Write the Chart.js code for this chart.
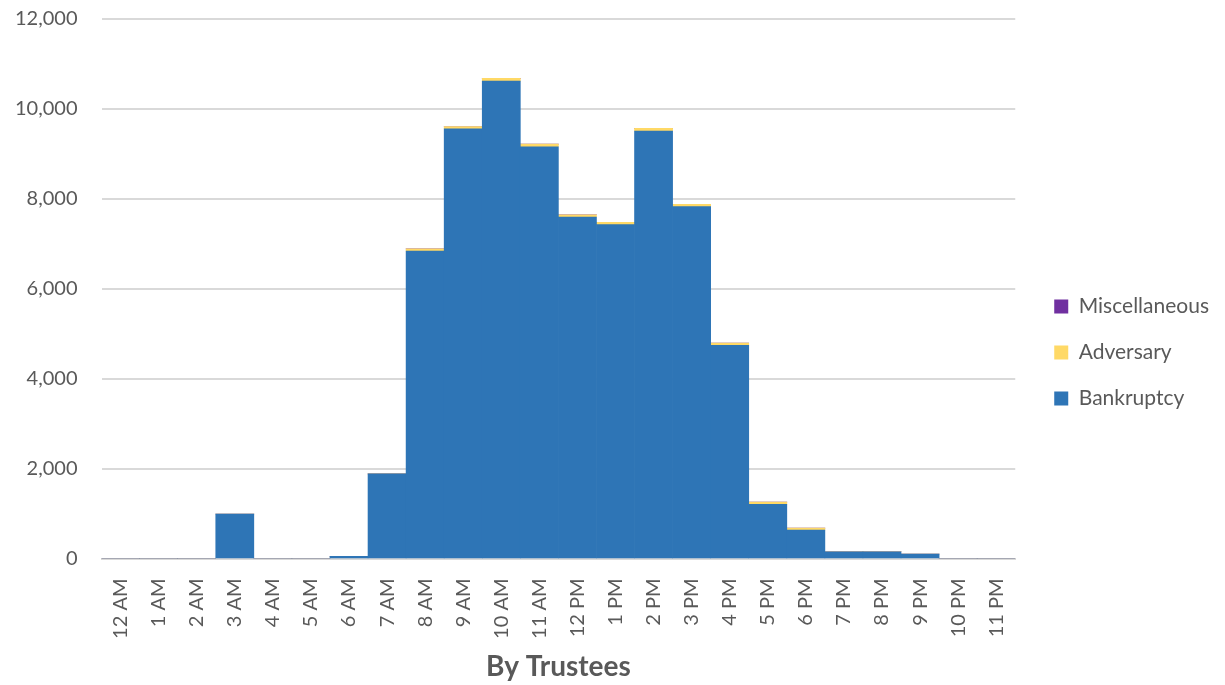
<!DOCTYPE html>
<html>
<head>
<meta charset="utf-8">
<script src="https://cdn.jsdelivr.net/npm/chart.js@4/dist/chart.umd.min.js"></script>
<style>
  html, body { margin: 0; padding: 0; background: #fff; overflow: hidden; }
  #wrap { width: 1225px; height: 685px; overflow: hidden; }
  /* canvas pushed up/left a bit so the plot area lines up with the original */
  #chart { display: block; margin-left: -17px; margin-top: -17px; }
</style>
</head>
<body>
<div id="wrap"><canvas id="chart" width="1242" height="702"></canvas></div>
<script>
// ===== DATA =====
const hours = ["12 AM", "1 AM", "2 AM", "3 AM", "4 AM", "5 AM", "6 AM", "7 AM", "8 AM", "9 AM", "10 AM", "11 AM",
               "12 PM", "1 PM", "2 PM", "3 PM", "4 PM", "5 PM", "6 PM", "7 PM", "8 PM", "9 PM", "10 PM", "11 PM"];

const bankruptcy    = [0, 0, 0, 1000, 0, 0, 60, 1890, 6840, 9560, 10620, 9160,
                       7600, 7430, 9510, 7830, 4750, 1215, 640, 160, 160, 110, 0, 0];
const adversary     = [0, 0, 0, 0, 0, 0, 0, 0, 50, 50, 60, 60,
                       50, 50, 60, 50, 50, 50, 45, 0, 0, 0, 0, 0];
const miscellaneous = [0, 0, 0, 0, 0, 0, 0, 0, 0, 0, 0, 0,
                       0, 0, 0, 0, 0, 0, 0, 0, 0, 0, 0, 0];

const yTicks = [0, 2000, 4000, 6000, 8000, 10000, 12000];

const FONT = "Lato, 'Open Sans', sans-serif";
const GREY = "#595959";

// ===== HELPERS =====
function makeDataset(label, data, color) {
  return {
    label,
    data,
    backgroundColor: color,
    borderWidth: 0,
    categoryPercentage: 1.0,
    barPercentage: 1.0
  };
}

// legend sits a bit further from the plot and lower than chart.js puts it
const legendShift = {
  id: "legendShift",
  afterInit(chart) {
    const lg = chart.legend;
    const fit = lg.fit;
    lg.fit = function () { fit.call(this); this.width += 14; };
    const draw = lg.draw;
    lg.draw = function () {
      this.ctx.save();
      this.ctx.translate(14, 22);
      draw.call(this);
      this.ctx.restore();
    };
  }
};

// ===== CHART =====
window.addEventListener("load", () => {
  new Chart(document.getElementById("chart"), {
    type: "bar",
    data: {
      labels: hours,
      datasets: [
        makeDataset("Bankruptcy", bankruptcy, "#2E75B6"),
        makeDataset("Adversary", adversary, "#FFD966"),
        makeDataset("Miscellaneous", miscellaneous, "#7030A0")
      ]
    },
    plugins: [legendShift],
    options: {
      responsive: false,
      animation: false,
      layout: { padding: { left: 8, right: 6, top: -6, bottom: 1 } },
      plugins: {
        tooltip: { enabled: false },
        legend: {
          position: "right",
          reverse: true,
          labels: {
            color: GREY,
            font: { family: FONT, size: 21 },
            boxWidth: 14,
            boxHeight: 14,
            padding: 25
          }
        }
      },
      scales: {
        x: {
          stacked: true,
          grid: { display: false },
          border: { display: true, color: "#d9d9d9", width: 2 },
          title: {
            display: true,
            text: "By Trustees",
            color: GREY,
            font: { family: FONT, size: 28, weight: "bold" },
            padding: { top: 0, bottom: 0 }
          },
          ticks: {
            color: GREY,
            font: { family: FONT, size: 20 },
            minRotation: 90,
            maxRotation: 90,
            autoSkip: false,
            padding: 11.5
          }
        },
        y: {
          stacked: true,
          min: 0,
          max: 12000,
          afterBuildTicks: (axis) => { axis.ticks = yTicks.map(v => ({ value: v })); },
          grid: { color: "#d9d9d9", lineWidth: 2, drawTicks: false },
          border: { display: false },
          ticks: {
            color: GREY,
            font: { family: FONT, size: 20 },
            padding: 24,
            callback: (v) => v.toLocaleString("en-US")
          }
        }
      }
    }
  });
});
</script>
</body>
</html>
